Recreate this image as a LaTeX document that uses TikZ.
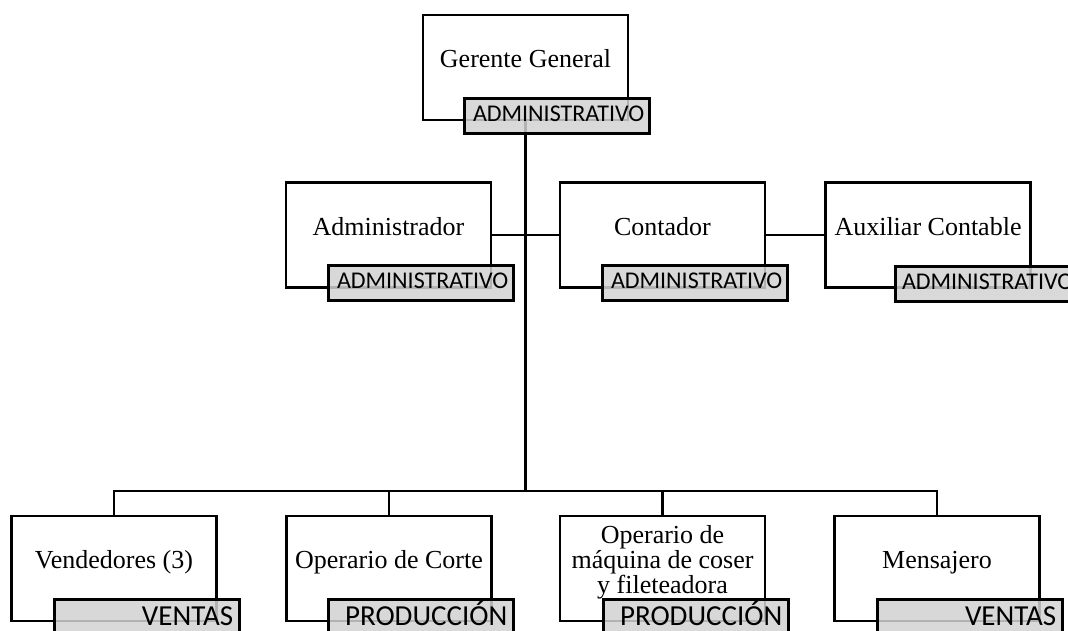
\documentclass[tikz,border=0pt]{standalone}
\usepackage{fontspec}
\setmainfont{Liberation Serif}
\newfontfamily\labfont{Carlito}
\begin{document}
\begin{tikzpicture}[x=1pt,y=-1pt,
  orgbox/.style={draw, line width=2.5pt, fill=white, minimum width=205pt, minimum height=105pt, inner sep=0pt, anchor=center},
  tagbox/.style={draw, line width=2.5pt, fill=gray!35, fill opacity=0.85, draw opacity=1, inner sep=0pt, anchor=north west, minimum width=185pt},
  toptag/.style={tagbox, minimum height=35pt},
  bottag/.style={tagbox, minimum height=45pt},
  roletext/.style={font=\fontsize{26}{25}\selectfont, inner sep=0pt, anchor=base},
  tagtext/.style={font=\labfont\fontsize{24}{24}\selectfont, inner sep=0pt, anchor=base east},
  bigtagtext/.style={font=\labfont\fontsize{29}{29}\selectfont, inner sep=0pt, anchor=base east},
  linkline/.style={line width=2.5pt}]
\useasboundingbox (0,0) rectangle (1068,630);
\clip (0,0) rectangle (1068,630);

% boxes
\node[orgbox] (g)  at (525.5,67.5) {};
\node[orgbox] (ad) at (388.5,235) {};
\node[orgbox] (co) at (662.5,235) {};
\node[orgbox] (au) at (928,235) {};
\node[orgbox] (ve) at (114,568.5) {};
\node[orgbox] (oc) at (389,568.5) {};
\node[orgbox] (om) at (662.5,568.5) {};
\node[orgbox] (me) at (937,568.5) {};

% connectors
\coordinate (j) at (525.5,491);
\draw[linkline] (g) -- (j);
\draw[linkline] (ad) -- (co);
\draw[linkline] (co) -- (au);
\draw[linkline] (ve) |- (j);
\draw[linkline] (oc) |- (j);
\draw[linkline] (om) |- (j);
\draw[linkline] (me) |- (j);

% names
\node[roletext] (gt)  at (g.center)  {Gerente General};
\node[roletext] (adt) at (ad.center) {Administrador};
\node[roletext] (cot) at (co.center) {Contador};
\node[roletext] (aut) at (au.center) {Auxiliar Contable};
\node[roletext] (vet) at (ve.center) {Vendedores (3)};
\node[roletext] (oct) at (oc.center) {Operario de Corte};
\node[roletext, align=center, anchor=north] (omt) at (662.5,525.2) {Operario de\\máquina de coser\\y fileteadora};
\node[roletext] (met) at (me.center) {Mensajero};

% tags
\node[toptag] (gl)  at (463,97) {};
\node[toptag] (adl) at (327,264) {};
\node[toptag] (col) at (601,264) {};
\node[toptag] (aul) at (894,265) {};
\node[bottag] (vel) at (53,598) {};
\node[bottag] (ocl) at (327,598) {};
\node[bottag] (oml) at (602,598) {};
\node[bottag] (mel) at (876,598) {};

\node[tagtext] at ([xshift=-6pt,yshift=-24.5pt]gl.north east)  {ADMINISTRATIVO};
\node[tagtext] at ([xshift=-6pt,yshift=-24.5pt]adl.north east) {ADMINISTRATIVO};
\node[tagtext] at ([xshift=-6pt,yshift=-24.5pt]col.north east) {ADMINISTRATIVO};
\node[tagtext] at ([xshift=-8pt,yshift=-24.5pt]aul.north east) {ADMINISTRATIVO};
\node[bigtagtext] at ([xshift=-7pt,yshift=-27pt]vel.north east) {VENTAS};
\node[bigtagtext] at ([xshift=-7pt,yshift=-27pt]ocl.north east) {PRODUCCIÓN};
\node[bigtagtext] at ([xshift=-7pt,yshift=-27pt]oml.north east) {PRODUCCIÓN};
\node[bigtagtext] at ([xshift=-7pt,yshift=-27pt]mel.north east) {VENTAS};
\end{tikzpicture}
\end{document}
